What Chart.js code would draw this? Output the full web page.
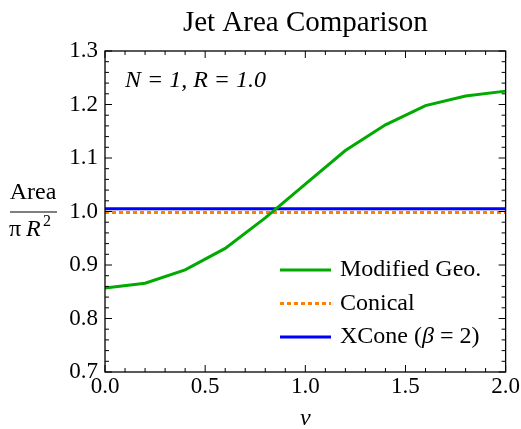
<!DOCTYPE html>
<html>
<head>
<meta charset="utf-8">
<script src="https://cdn.jsdelivr.net/npm/chart.js@4"></script>
<style>
  html, body { margin: 0; padding: 0; background: #fff; }
  #wrap { width: 521px; height: 429px; }
</style>
</head>
<body>
<div id="wrap"><canvas id="jetChart" width="521" height="429"></canvas></div>
<script>
// --- data ---
const vValues = [0.0, 0.2, 0.4, 0.6, 0.8, 1.0, 1.2, 1.4, 1.6, 1.8, 2.0];
const modifiedGeo = [0.857, 0.866, 0.891, 0.931, 0.988, 1.051, 1.114, 1.162, 1.198, 1.216, 1.225];
const conical = [0.998, 0.998, 0.998, 0.998, 0.998, 0.998, 0.998, 0.998, 0.998, 0.998, 0.998];
const xcone = [1.005, 1.005, 1.005, 1.005, 1.005, 1.005, 1.005, 1.005, 1.005, 1.005, 1.005];
const xTicks = [0.0, 0.5, 1.0, 1.5, 2.0];
const yTicks = [0.7, 0.8, 0.9, 1.0, 1.1, 1.2, 1.3];
const seriesNames = ['Modified Geo.', 'Conical', 'XCone (\u03B2 = 2)'];

const SERIF = '"Liberation Serif", "DejaVu Serif", serif';
const green = 'rgb(0,170,0)';
const orange = 'rgb(255,128,0)';
const blue = 'rgb(0,0,255)';

function toPoints(ys) {
    return vValues.map((v, i) => ({ x: v, y: ys[i] }));
}

// draws text where greek letters are set in italic
function drawMixed(ctx, text, x, y) {
    let cx = x;
    for (const ch of text) {
        const greek = /[\u0370-\u03FF]/.test(ch);
        ctx.font = (greek ? 'italic ' : '') + '24px ' + SERIF;
        ctx.fillText(ch, cx, y);
        cx += ctx.measureText(ch).width;
    }
}

// frame, inward ticks, title, labels, legend
const decorPlugin = {
    id: 'decor',
    afterDraw(chart) {
        const ctx = chart.ctx;
        const a = chart.chartArea;
        const xs = chart.scales.x, ys = chart.scales.y;
        ctx.save();
        ctx.strokeStyle = '#000';
        ctx.lineWidth = 1.3;
        ctx.strokeRect(a.left, a.top, a.right - a.left, a.bottom - a.top);

        // inward ticks on every side
        ctx.lineWidth = 1;
        ctx.beginPath();
        for (let i = 0; i <= 20; i++) {
            const px = xs.getPixelForValue(i / 10);
            const len = (i % 5 === 0) ? 7 : 4;
            ctx.moveTo(px, a.bottom); ctx.lineTo(px, a.bottom - len);
            ctx.moveTo(px, a.top); ctx.lineTo(px, a.top + len);
        }
        for (let i = 0; i <= 30; i++) {
            const py = ys.getPixelForValue(0.7 + i * 0.02);
            const len = (i % 5 === 0) ? 7 : 4;
            ctx.moveTo(a.left, py); ctx.lineTo(a.left + len, py);
            ctx.moveTo(a.right, py); ctx.lineTo(a.right - len, py);
        }
        ctx.stroke();

        ctx.fillStyle = '#000';
        ctx.textBaseline = 'alphabetic';
        // title
        ctx.font = '29px ' + SERIF;
        ctx.textAlign = 'center';
        ctx.fillText('Jet Area Comparison', (a.left + a.right) / 2, 31);

        // annotation
        ctx.font = 'italic 24px ' + SERIF;
        ctx.textAlign = 'left';
        ctx.fillText('N = 1, R = 1.0', a.left + 20, 87);

        // x axis title
        ctx.textAlign = 'center';
        ctx.fillText('v', (a.left + a.right) / 2, 425);

        // y axis title as fraction
        ctx.font = '24px ' + SERIF;
        ctx.fillText('Area', 33, 199);
        ctx.beginPath();
        ctx.lineWidth = 1.2;
        ctx.moveTo(10, 212); ctx.lineTo(57, 212);
        ctx.stroke();
        ctx.textAlign = 'left';
        ctx.fillText('\u03C0', 9, 236);
        ctx.font = 'italic 24px ' + SERIF;
        ctx.fillText('R', 26, 236);
        ctx.font = '16px ' + SERIF;
        ctx.fillText('2', 43, 226);

        // legend
        const items = [
            { name: seriesNames[0], color: green, dash: [] },
            { name: seriesNames[1], color: orange, dash: [4, 3] },
            { name: seriesNames[2], color: blue, dash: [] }
        ];
        items.forEach((it, i) => {
            const y = 270 + i * 33.5;
            ctx.beginPath();
            ctx.strokeStyle = it.color;
            ctx.lineWidth = 3;
            ctx.setLineDash(it.dash);
            ctx.moveTo(280, y); ctx.lineTo(331, y);
            ctx.stroke();
            ctx.setLineDash([]);
            ctx.fillStyle = '#000';
            ctx.textAlign = 'left';
            ctx.textBaseline = 'middle';
            drawMixed(ctx, it.name, 340, y);
        });
        ctx.restore();
    }
};

new Chart(document.getElementById('jetChart'), {
    type: 'line',
    data: {
        datasets: [
            { label: seriesNames[0], data: toPoints(modifiedGeo), borderColor: green, borderWidth: 3, pointRadius: 0, tension: 0 },
            { label: seriesNames[1], data: toPoints(conical), borderColor: orange, borderWidth: 3, borderDash: [4, 3], pointRadius: 0 },
            { label: seriesNames[2], data: toPoints(xcone), borderColor: blue, borderWidth: 3, pointRadius: 0 }
        ]
    },
    options: {
        responsive: false,
        animation: false,
        layout: { padding: { top: 51, right: 15, left: 0, bottom: 0 } },
        plugins: { legend: { display: false }, title: { display: false }, tooltip: { enabled: false } },
        scales: {
            x: {
                type: 'linear', min: 0, max: 2,
                grid: { display: false, drawTicks: false },
                border: { display: false },
                afterBuildTicks: s => { s.ticks = xTicks.map(v => ({ value: v })); },
                afterFit: s => { s.height = 57; },
                ticks: { padding: 1, color: '#000', font: { family: SERIF, size: 23 }, maxRotation: 0, callback: v => v.toFixed(1) }
            },
            y: {
                type: 'linear', min: 0.7, max: 1.3,
                grid: { display: false, drawTicks: false },
                border: { display: false },
                afterBuildTicks: s => { s.ticks = yTicks.map(v => ({ value: v })); },
                afterFit: s => { s.width = 105; },
                ticks: { padding: 7, color: '#000', font: { family: SERIF, size: 23 }, callback: v => v.toFixed(1) }
            }
        }
    },
    plugins: [decorPlugin]
});
</script>
</body>
</html>
